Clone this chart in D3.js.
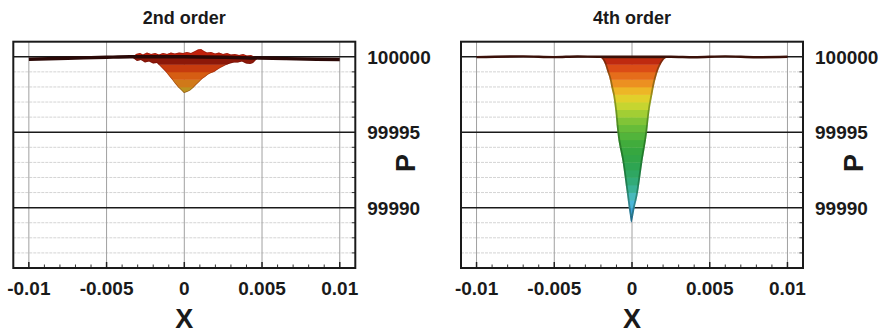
<!DOCTYPE html>
<html>
<head>
<meta charset="utf-8">
<script src="https://cdn.jsdelivr.net/npm/d3@7"></script>
<style>
  html, body { margin: 0; padding: 0; background: #fff; }
  svg { display: block; }
  text { font-family: "Liberation Sans", Arial, Helvetica, sans-serif; font-weight: bold; fill: #1a1a1a; }
</style>
</head>
<body>
<svg id="chart" width="889" height="335"></svg>
<script>
// ---- axis ticks and labels ----
const panelTitles = ["2nd order", "4th order"];
const xTicks = [-0.01, -0.005, 0, 0.005, 0.01];
const xTickLabels = ["-0.01", "-0.005", "0", "0.005", "0.01"];
const pTicks = [99990, 99995, 100000];
const pTickLabels = ["99990", "99995", "100000"];
const xTitle = "X";
const pTitle = "P";

// ---- 2nd order: upper and lower envelope of the pressure surface ----
const x2Upper = [-0.0033, -0.00311, -0.00285, -0.00266, -0.0024, -0.00214, -0.00188, -0.00163, -0.00137, -0.00111,
  -0.00086, -0.0006, -0.00034, -0.00008, 0.00017, 0.00043, 0.00069, 0.00088, 0.00107, 0.00127,
  0.00146, 0.00172, 0.00198, 0.00223, 0.00249, 0.00275, 0.003, 0.00326, 0.00352, 0.00378,
  0.00403, 0.00429, 0.00455, 0.00474];
const p2Upper = [99999.95, 100000.19, 100000.25, 100000.15, 100000.28, 100000.19, 100000.25, 100000.15, 100000.25, 100000.19,
  100000.28, 100000.22, 100000.28, 100000.25, 100000.32, 100000.25, 100000.38, 100000.48, 100000.52, 100000.38,
  100000.28, 100000.32, 100000.22, 100000.28, 100000.19, 100000.25, 100000.15, 100000.19, 100000.12, 100000.19,
  100000.09, 100000.12, 99999.99, 99999.92];
const x2Lower = [-0.0033, -0.00304, -0.00279, -0.00253, -0.00227, -0.00201, -0.00176, -0.00156, -0.00137, -0.00118,
  -0.00098, -0.00079, -0.0006, -0.00041, -0.00021, -0.00002, 0.00017, 0.00037, 0.00056, 0.00075,
  0.00095, 0.00114, 0.00133, 0.00153, 0.00172, 0.00191, 0.0021, 0.0023, 0.00249, 0.00268,
  0.00294, 0.0032, 0.00345, 0.00371, 0.00397, 0.00423, 0.00442, 0.00461, 0.00474];
const p2Lower = [99999.92, 99999.72, 99999.79, 99999.62, 99999.69, 99999.56, 99999.59, 99999.39, 99999.19, 99998.99,
  99998.73, 99998.5, 99998.23, 99998.0, 99997.8, 99997.6, 99997.67, 99997.77, 99997.93, 99998.13,
  99998.33, 99998.53, 99998.66, 99998.83, 99998.93, 99998.99, 99999.13, 99999.26, 99999.36, 99999.46,
  99999.56, 99999.62, 99999.62, 99999.69, 99999.56, 99999.52, 99999.59, 99999.79, 99999.89];
// far-field level of the 2nd order solution
const x2Flat = [-0.01, -0.0075, -0.005, -0.0035, 0, 0.0048, 0.0065, 0.0085, 0.01];
const p2Flat = [99999.84, 99999.9, 99999.97, 100000.0, 100000.0, 99999.92, 99999.88, 99999.84, 99999.82];

// ---- 4th order: pressure profile through the vortex core ----
const x4Profile = [-0.00221, -0.00201, -0.00185, -0.00172, -0.0016, -0.00143, -0.00131, -0.00121, -0.00107, -0.00095,
  -0.0006, -0.00031, -0.00015, -0.00004, 0.00006, 0.00017, 0.00035, 0.00066, 0.00098, 0.00111,
  0.0013, 0.00146, 0.00156, 0.00172, 0.00188, 0.00204, 0.00223, 0.00249];
const p4Profile = [100000, 99999.93, 99999.75, 99999.45, 99999.05, 99998.5, 99997.9, 99997.45, 99996.4, 99995.1,
  99993.0, 99990.8, 99989.6, 99989.02, 99989.4, 99990.0, 99990.8, 99993.0, 99995.1, 99996.3,
  99997.45, 99998.3, 99998.7, 99999.2, 99999.55, 99999.8, 99999.93, 100000];
const x4Flat = [-0.01, -0.007, -0.005, -0.0035, -0.0022, 0.0025, 0.004, 0.006, 0.008, 0.01];
const p4Flat = [99999.98, 100000.03, 99999.98, 100000.02, 100000, 100000, 99999.97, 100000.03, 99999.97, 100000];

// ---- layout ----
const W = 342, H = 226.3, TOP = 41.7;
const panelLeft = [13.3, 461];
const xDomain = [-0.011, 0.011];
const pDomain = [99986, 100001];

// contour colour map used for the 4th order surface
const cmap4 = d3.scaleLinear()
  .domain([99989, 99990, 99990.5, 99991, 99992, 99993, 99994, 99995, 99996, 99996.5, 99997, 99997.5, 99998, 99998.5, 99999, 99999.5, 100000])
  .range(["#2a86cc", "#46aee0", "#52c0d4", "#3cb4a2", "#2fa86a", "#2ea44a", "#38a83c", "#5ab83a", "#8ec836", "#b6d432", "#d6d62e", "#ecca28", "#eea224", "#ea7e1e", "#e05c18", "#d63c14", "#a8180c"])
  .clamp(true);
// shaded colour map of the 2nd order surface
const cmap2 = d3.scaleLinear()
  .domain([99997.6, 99998, 99998.5, 99999, 99999.5, 99999.85, 100000.1, 100000.5])
  .range(["#b49a22", "#c8861c", "#d86c16", "#d44e10", "#b8280c", "#7a1208", "#b01c0a", "#dc2a10"])
  .clamp(true);

const svg = d3.select("#chart");
const defs = svg.append("defs");

const panels = [
  { title: panelTitles[0], kind: 2 },
  { title: panelTitles[1], kind: 4 }
];

panels.forEach((pan, i) => {
  const g = svg.append("g").attr("transform", `translate(${panelLeft[i]},${TOP})`);
  const x = d3.scaleLinear().domain(xDomain).range([0, W]);
  const y = d3.scaleLinear().domain(pDomain).range([H, 0]);

  // minor horizontal grid (every 1 Pa)
  const minorP = d3.range(pDomain[0] + 1, pDomain[1]).filter(p => !pTicks.includes(p));
  g.append("g").selectAll("line").data(minorP).join("line")
    .attr("x1", 0).attr("x2", W)
    .attr("y1", d => y(d)).attr("y2", d => y(d))
    .attr("stroke", "#d4d4d4").attr("stroke-width", 1).attr("stroke-dasharray", "3,1");

  // vertical grid at major x ticks
  g.append("g").selectAll("line").data(xTicks).join("line")
    .attr("x1", d => x(d)).attr("x2", d => x(d))
    .attr("y1", 0).attr("y2", H)
    .attr("stroke", "#a0a0a0").attr("stroke-width", 1);

  // major horizontal grid
  g.append("g").selectAll("line").data(pTicks).join("line")
    .attr("x1", 0).attr("x2", W)
    .attr("y1", d => y(d)).attr("y2", d => y(d))
    .attr("stroke", "#1a1a1a").attr("stroke-width", 1.5);

  // surface silhouette
  let shapePath, cmap, flatX, flatP, flatW, flatC;
  if (pan.kind === 2) {
    const upper = x2Upper.map((v, k) => [v, p2Upper[k]]);
    const lower = x2Lower.map((v, k) => [v, p2Lower[k]]).reverse();
    shapePath = d3.line().x(d => x(d[0])).y(d => y(d[1]))(upper.concat(lower)) + "Z";
    cmap = cmap2;
    flatX = x2Flat; flatP = p2Flat; flatW = 3.4; flatC = "#2a0806";
  } else {
    const prof = x4Profile.map((v, k) => [v, p4Profile[k]]);
    shapePath = d3.area().x(d => x(d[0])).y0(y(100000)).y1(d => y(d[1])).curve(d3.curveMonotoneX)(prof);
    cmap = cmap4;
    flatX = x4Flat; flatP = p4Flat; flatW = 2.4; flatC = "#3a1008";
  }

  const clipId = "clip" + i;
  defs.append("clipPath").attr("id", clipId).append("path").attr("d", shapePath);

  const surf = g.append("g").attr("clip-path", `url(#${clipId})`);
  const step = 0.5;
  const bands = d3.range(99988.5, 100001, step);
  surf.selectAll("rect").data(bands).join("rect")
    .attr("x", 0).attr("width", W)
    .attr("y", d => y(d + step)).attr("height", d => y(d) - y(d + step) + 0.4)
    .attr("fill", d => cmap(d + step / 2));
  // shading along the silhouette edges
  surf.append("path").attr("d", shapePath)
    .attr("fill", "none")
    .attr("stroke", pan.kind === 2 ? "rgba(90,0,0,0.4)" : "rgba(0,40,0,0.35)")
    .attr("stroke-width", pan.kind === 2 ? 1.2 : 3.5);

  // far-field pressure level
  g.append("path")
    .datum(flatX.map((v, k) => [v, flatP[k]]))
    .attr("d", d3.line().x(d => x(d[0])).y(d => y(d[1])).curve(d3.curveMonotoneX))
    .attr("fill", "none").attr("stroke", flatC).attr("stroke-width", flatW)
    .attr("stroke-linecap", "butt");

  // bottom ticks (major and minor), pointing inward
  const minorX = d3.range(-10, 11).map(k => k * 0.001).filter(v => Math.abs(Math.round(v * 1000) % 5) !== 0);
  g.append("g").selectAll("line").data(minorX).join("line")
    .attr("x1", d => x(d)).attr("x2", d => x(d))
    .attr("y1", H).attr("y2", H - 3.5)
    .attr("stroke", "#333").attr("stroke-width", 1);
  g.append("g").selectAll("line").data(xTicks).join("line")
    .attr("x1", d => x(d)).attr("x2", d => x(d))
    .attr("y1", H).attr("y2", H - 6)
    .attr("stroke", "#222").attr("stroke-width", 1.5);

  // right ticks
  g.append("g").selectAll("line").data(minorP).join("line")
    .attr("x1", W).attr("x2", W - 3.5)
    .attr("y1", d => y(d)).attr("y2", d => y(d))
    .attr("stroke", "#333").attr("stroke-width", 1);

  // frame
  g.append("rect").attr("x", 0).attr("y", 0).attr("width", W).attr("height", H)
    .attr("fill", "none").attr("stroke", "#1a1a1a").attr("stroke-width", 2);

  // x tick labels
  g.append("g").selectAll("text").data(xTicks).join("text")
    .attr("x", d => x(d)).attr("y", H + 27)
    .attr("text-anchor", "middle").attr("font-size", 19)
    .text((d, k) => xTickLabels[k]);

  // p tick labels (right side)
  g.append("g").selectAll("text").data(pTicks).join("text")
    .attr("x", W + 12).attr("y", d => y(d) + 7)
    .attr("text-anchor", "start").attr("font-size", 19)
    .text((d, k) => pTickLabels[k]);

  // axis titles
  g.append("text").attr("x", x(0)).attr("y", H + 60)
    .attr("text-anchor", "middle").attr("font-size", 27).text(xTitle);
  g.append("text")
    .attr("transform", `translate(${W + 60},${(y(99995) + y(99990)) / 2 - 7}) rotate(-90)`)
    .attr("text-anchor", "middle").attr("font-size", 27).text(pTitle);

  // panel title
  g.append("text").attr("x", x(0)).attr("y", -18)
    .attr("text-anchor", "middle").attr("font-size", 18).text(pan.title);
});
</script>
</body>
</html>
